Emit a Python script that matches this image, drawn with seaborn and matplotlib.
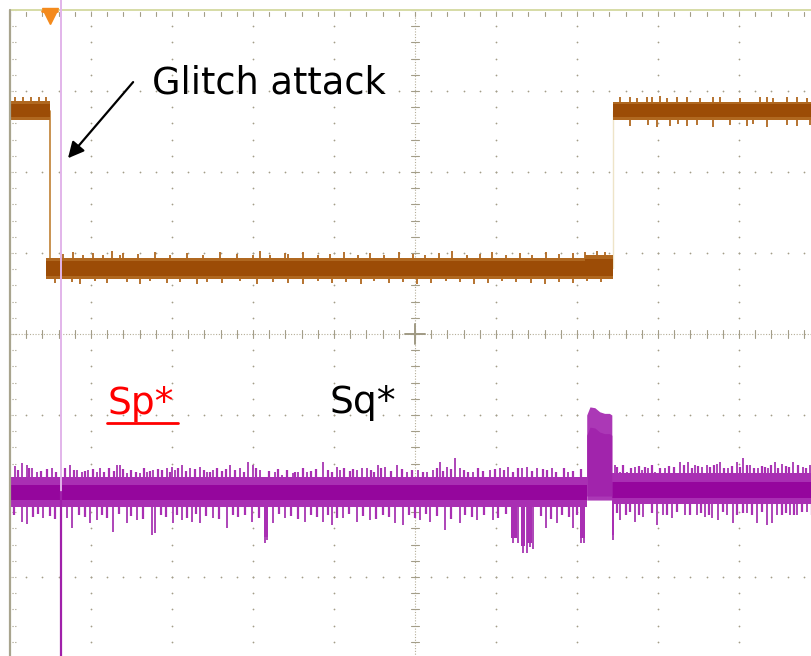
import matplotlib
matplotlib.use("Agg")
import matplotlib.pyplot as plt
import numpy as np
import pandas as pd
import seaborn as sns

# ---------------- data (scope screen units: time in div 0..10, level in div -4..4) -------------
# CH1 (orange) step trace
ch1_time = [0.0, 0.49, 0.49, 7.44, 7.44, 10.0]
ch1_level = [2.75, 2.75, 0.81, 0.81, 2.75, 2.75]
# CH1 noise band segments: start, end, lower edge, upper edge
ch1_band_start = [0.0, 0.45, 7.10, 7.44]
ch1_band_end = [0.49, 7.10, 7.44, 10.0]
ch1_band_low = [2.64, 0.68, 0.68, 2.64]
ch1_band_high = [2.88, 0.94, 0.97, 2.87]
ch1_core_low = [2.68, 0.72, 0.72, 2.68]
ch1_core_high = [2.84, 0.90, 0.93, 2.84]
# CH1 noise spikes
ch1_up_t = [0.06, 0.16, 0.26, 0.36, 0.44,
            0.65, 0.78, 0.90, 1.02, 1.15, 1.26, 1.36, 1.40, 1.58, 1.79, 1.98, 2.19, 2.38,
            2.59, 2.80, 3.00, 3.09, 3.21, 3.40, 3.43, 3.62, 3.80, 3.95, 4.12, 4.30, 4.45,
            4.62, 4.80, 4.97, 5.12, 5.30, 5.46, 5.64, 5.80, 5.95, 6.12, 6.30, 6.45, 6.62,
            6.78, 6.95, 7.10, 7.25, 7.35,
            7.53, 7.65, 7.74, 7.86, 7.93, 8.02, 8.11, 8.23, 8.36, 8.52, 8.68, 8.77, 9.01,
            9.26, 9.35, 9.42, 9.59, 9.72, 9.84]
ch1_up_v = [2.93, 2.92, 2.93, 2.92, 2.93,
            0.99, 1.01, 0.97, 1.00, 0.98, 1.02, 0.97, 1.00, 0.99, 1.01, 0.98, 1.00, 0.97,
            1.01, 0.99, 0.98, 1.02, 0.97, 1.00, 0.99, 1.01, 0.98, 0.99, 1.01, 0.97, 1.00,
            0.98, 1.01, 0.99, 0.97, 1.00, 1.02, 0.98, 0.99, 1.01, 0.97, 1.00, 0.98, 1.01,
            0.99, 1.00, 1.01, 1.02, 1.01,
            2.92, 2.93, 2.91, 2.93, 2.92, 2.94, 2.91, 2.93, 2.92, 2.91, 2.93, 2.92, 2.91,
            2.93, 2.92, 2.91, 2.93, 2.92, 2.91]
ch1_dn_t = [0.56, 0.77, 0.86, 1.05, 1.20, 1.44, 1.60, 1.73, 1.94, 2.10, 2.31, 2.43, 2.62,
            2.84, 3.05, 3.25, 3.43, 3.62, 3.80, 3.97, 4.15, 4.33, 4.50, 4.68, 4.85, 5.02,
            5.20, 5.38, 5.55, 5.73, 5.90, 6.08, 6.25, 6.43, 6.60, 6.78, 6.95, 7.12, 7.30,
            7.65, 7.88, 7.99, 8.15, 8.25, 8.36, 8.48, 8.68, 8.89, 9.10, 9.17, 9.35, 9.59,
            9.72, 9.88]
ch1_dn_v = [0.63, 0.64, 0.62, 0.65, 0.63, 0.64, 0.62, 0.65, 0.63, 0.64, 0.62, 0.64, 0.63,
            0.65, 0.62, 0.64, 0.63, 0.62, 0.65, 0.63, 0.64, 0.62, 0.65, 0.63, 0.64, 0.62,
            0.63, 0.65, 0.64, 0.62, 0.63, 0.65, 0.64, 0.63, 0.62, 0.64, 0.63, 0.65, 0.64,
            2.57, 2.58, 2.56, 2.57, 2.59, 2.57, 2.58, 2.56, 2.58, 2.57, 2.59, 2.56, 2.58,
            2.57, 2.58]

# CH2 (purple) noise band segments: start, end, lower, upper
ch2_band_start = [0.0, 7.43]
ch2_band_end = [7.12, 10.0]
ch2_band_low = [-2.13, -2.10]
ch2_band_high = [-1.76, -1.72]
ch2_core_low = [-2.05, -2.02]
ch2_core_high = [-1.87, -1.83]
# CH2 pulse block
ch2_block_t = [7.12, 7.16, 7.22, 7.28, 7.34, 7.40, 7.43]
ch2_block_top = [-1.00, -0.90, -0.91, -0.96, -0.98, -0.98, -1.00]
# CH2 negative bursts (start, end, depth)
ch2_dip_start = [3.13, 6.19, 6.31, 6.38, 7.04, 7.43]
ch2_dip_end = [3.18, 6.26, 6.36, 6.44, 7.10, 7.46]
ch2_dip_depth = [-2.50, -2.52, -2.62, -2.58, -2.52, -2.48]
# CH2 glitch spike
ch2_glitch_t = 0.63
ch2_glitch_v = -4.2
# CH2 main noise spikes
ch2_up_t = [0.06, 0.15, 0.21, 0.27, 0.33, 0.52, 0.74, 0.83, 0.89, 0.96, 1.07, 1.11, 1.32,
            1.36, 1.44, 1.60, 1.69, 1.77, 1.94, 2.00, 2.04, 2.12, 2.22, 2.35, 2.43, 2.51,
            2.72, 2.84, 2.94, 3.00, 3.09, 3.27, 3.36, 3.49, 3.56, 3.67, 3.86, 4.04, 4.07,
            4.28, 4.35, 4.41, 4.54, 4.63, 4.78, 4.90, 5.04, 5.15, 5.22, 5.31, 5.40, 5.49,
            5.56, 5.72, 5.93, 6.05, 6.15, 6.32, 6.38, 6.51, 6.69, 6.79, 6.89, 7.00,
            7.47, 7.53, 7.62, 7.72, 7.80, 7.88, 7.96, 8.09, 8.27, 8.37, 8.46, 8.54, 8.60,
            8.73, 8.77, 8.86, 8.98, 9.05, 9.14, 9.23, 9.36, 9.44, 9.53, 9.67, 9.79, 9.88]
ch2_up_v = [-1.63, -1.59, -1.62, -1.66, -1.70, -1.66, -1.62, -1.68, -1.70, -1.68, -1.70,
            -1.66, -1.62, -1.62, -1.72, -1.72, -1.70, -1.68, -1.66, -1.64, -1.68, -1.62,
            -1.66, -1.64, -1.70, -1.68, -1.62, -1.66, -1.58, -1.62, -1.68, -1.70, -1.74,
            -1.72, -1.70, -1.70, -1.58, -1.64, -1.68, -1.68, -1.65, -1.65, -1.62, -1.64,
            -1.62, -1.70, -1.68, -1.70, -1.68, -1.58, -1.64, -1.53, -1.65, -1.70, -1.68,
            -1.65, -1.64, -1.65, -1.64, -1.65, -1.65, -1.76, -1.70, -1.76,
            -1.62, -1.70, -1.70, -1.64, -1.68, -1.65, -1.70, -1.65, -1.58, -1.58, -1.62,
            -1.64, -1.62, -1.60, -1.58, -1.65, -1.58, -1.53, -1.62, -1.65, -1.65, -1.58,
            -1.60, -1.58, -1.64, -1.62]
ch2_dn_t = [0.15, 0.21, 0.41, 0.70, 0.77, 0.99, 1.07, 1.27, 1.44, 1.57, 1.75, 1.79, 2.01,
            2.12, 2.25, 2.35, 2.51, 2.68, 2.99, 3.15, 3.17, 3.25, 3.40, 3.64, 3.86, 3.98,
            4.11, 4.28, 4.44, 4.75, 4.85, 5.06, 5.19, 5.37, 5.56, 5.77, 5.96, 6.21, 6.27,
            6.33, 6.38, 6.42, 6.46, 6.62, 6.75, 6.95, 7.05, 7.09, 7.44, 7.53, 7.72, 7.81,
            7.99, 8.06, 8.17, 8.33, 8.48, 8.58, 8.67, 8.74, 8.85, 8.93, 9.10, 9.22, 9.35,
            9.41, 9.47, 9.63, 9.72, 9.84]
ch2_dn_v = [-2.32, -2.35, -2.27, -2.27, -2.40, -2.33, -2.30, -2.44, -2.33, -2.30, -2.48,
            -2.46, -2.33, -2.30, -2.32, -2.33, -2.27, -2.40, -2.32, -2.58, -2.54, -2.33,
            -2.27, -2.32, -2.32, -2.36, -2.27, -2.32, -2.30, -2.33, -2.36, -2.30, -2.32,
            -2.42, -2.33, -2.30, -2.30, -2.58, -2.58, -2.70, -2.70, -2.63, -2.66, -2.40,
            -2.33, -2.40, -2.58, -2.58, -2.54, -2.30, -2.32, -2.26, -2.36, -2.23, -2.27,
            -2.23, -2.23, -2.26, -2.27, -2.30, -2.23, -2.33, -2.21, -2.33, -2.36, -2.33,
            -2.23, -2.23, -2.23, -2.20]
# CH2 secondary (smaller) noise spikes as (time, level) pairs
ch2_small_up = [(0.10, -1.68), (0.24, -1.66), (0.38, -1.69), (0.46, -1.67), (0.57, -1.70),
                (0.68, -1.66), (0.79, -1.68), (0.93, -1.69), (1.02, -1.67), (1.16, -1.70),
                (1.22, -1.66), (1.28, -1.69), (1.40, -1.67), (1.50, -1.68), (1.55, -1.70),
                (1.65, -1.66), (1.73, -1.69), (1.83, -1.67), (1.88, -1.68), (1.98, -1.70),
                (2.08, -1.66), (2.17, -1.69), (2.28, -1.67), (2.39, -1.68), (2.47, -1.70),
                (2.56, -1.66), (2.62, -1.69), (2.67, -1.67), (2.78, -1.68), (2.89, -1.70),
                (3.04, -1.66), (3.20, -1.69), (3.31, -1.67), (3.42, -1.68), (3.52, -1.70),
                (3.62, -1.66), (3.72, -1.69), (3.78, -1.67), (3.92, -1.68), (3.98, -1.70),
                (4.12, -1.66), (4.20, -1.69), (4.24, -1.67), (4.46, -1.68), (4.50, -1.70),
                (4.58, -1.66), (4.70, -1.69), (4.84, -1.67), (4.96, -1.68), (5.10, -1.70),
                (5.27, -1.66), (5.35, -1.69), (5.45, -1.67), (5.60, -1.68), (5.66, -1.70),
                (5.78, -1.66), (5.84, -1.69), (5.99, -1.67), (6.10, -1.68), (6.21, -1.70),
                (6.27, -1.66), (6.45, -1.69), (6.58, -1.67), (6.63, -1.68), (6.74, -1.70),
                (6.84, -1.66), (6.95, -1.69), (7.05, -1.67),
                (7.50, -1.64), (7.57, -1.62), (7.67, -1.65), (7.76, -1.63), (7.84, -1.64),
                (7.92, -1.62), (8.02, -1.65), (8.14, -1.63), (8.20, -1.64), (8.32, -1.62),
                (8.42, -1.65), (8.50, -1.63), (8.64, -1.64), (8.69, -1.62), (8.82, -1.65),
                (8.91, -1.63), (9.01, -1.64), (9.10, -1.62), (9.18, -1.65), (9.28, -1.63),
                (9.32, -1.64), (9.40, -1.62), (9.48, -1.65), (9.58, -1.63), (9.62, -1.64),
                (9.73, -1.62), (9.83, -1.65)]
ch2_small_dn = [(0.05, -2.24), (0.28, -2.26), (0.35, -2.22), (0.49, -2.25), (0.56, -2.28),
                (0.85, -2.23), (0.92, -2.26), (1.13, -2.24), (1.20, -2.27), (1.35, -2.22),
                (1.50, -2.25), (1.64, -2.28), (1.86, -2.23), (1.92, -2.26), (2.06, -2.24),
                (2.18, -2.27), (2.30, -2.22), (2.42, -2.25), (2.58, -2.28), (2.75, -2.23),
                (2.82, -2.26), (2.90, -2.24), (3.07, -2.27), (3.32, -2.22), (3.47, -2.25),
                (3.55, -2.28), (3.72, -2.23), (3.79, -2.26), (3.92, -2.24), (4.04, -2.27),
                (4.18, -2.22), (4.36, -2.25), (4.52, -2.28), (4.60, -2.23), (4.68, -2.26),
                (4.92, -2.24), (5.00, -2.27), (5.13, -2.22), (5.27, -2.25), (5.45, -2.28),
                (5.62, -2.23), (5.70, -2.26), (5.85, -2.24), (6.03, -2.27), (6.12, -2.22),
                (6.55, -2.25), (6.68, -2.28), (6.82, -2.23), (6.90, -2.26), (7.00, -2.24),
                (7.49, -2.21), (7.60, -2.24), (7.66, -2.20), (7.77, -2.23), (7.92, -2.21),
                (8.11, -2.24), (8.24, -2.20), (8.40, -2.23), (8.53, -2.21), (8.63, -2.24),
                (8.80, -2.20), (8.97, -2.23), (9.05, -2.21), (9.16, -2.24), (9.28, -2.20),
                (9.53, -2.23), (9.58, -2.21), (9.68, -2.24), (9.78, -2.20), (9.90, -2.23)]

trigger_t = 0.49
cursor_t = 0.63

# ---------------- figure -------------------------------------------------------
sns.set_theme(style="white")
plt.rcParams["font.family"] = ["DejaVu Sans"]

fig = plt.figure(figsize=(8.12, 6.56), dpi=100)
ax = fig.add_axes([0, 0, 1, 1])
ax.set_xlim(-10 / 81, 802 / 81)
ax.set_ylim(-322 / 81, 334 / 81)
ax.set_facecolor("white")
for s in ax.spines.values():
    s.set_visible(False)
ax.set_xticks([])
ax.set_yticks([])

grid_c = "#a39d88"
minor = np.arange(-4.0, 4.01, 0.2)
minor_x = np.arange(0.0, 10.01, 0.2)
# dotted major grid
for gx in range(1, 10):
    if gx == 5:
        continue
    ax.scatter(np.full(minor.size, gx), minor, s=1.6, color=grid_c, lw=0, zorder=1)
for gy in range(-3, 4):
    if gy == 0:
        continue
    ax.scatter(minor_x, np.full(minor_x.size, gy), s=1.6, color=grid_c, lw=0, zorder=1)
# centre axes with ticks
ax.plot([0, 10], [0, 0], color="#b5ae98", lw=0.8, ls=(0, (1, 1.5)), zorder=1)
ax.plot([5, 5], [-4, 4], color="#b5ae98", lw=0.8, ls=(0, (1, 1.5)), zorder=1)
for tx in minor_x:
    ax.plot([tx, tx], [-0.045, 0.045], color=grid_c, lw=0.8, zorder=1)
for ty in minor:
    ax.plot([4.955, 5.045], [ty, ty], color=grid_c, lw=0.8, zorder=1)
ax.plot([4.88, 5.12], [0, 0], color="#a09a84", lw=1.4, zorder=1)
ax.plot([5, 5], [-0.12, 0.12], color="#a09a84", lw=1.4, zorder=1)
# border ticks
for ty in minor:
    ax.plot([0.02, 0.08], [ty, ty], color=grid_c, lw=0.8, ls=(0, (1, 1.5)), zorder=1)
for tx in minor_x:
    ax.plot([tx, tx], [3.92, 3.97], color=grid_c, lw=0.8, zorder=1)
ax.plot([0, 0], [-4.2, 4.0], color="#a8a48e", lw=1.6, zorder=8)
ax.plot([0, 10.2], [4.0, 4.0], color="#d6dca6", lw=1.4, zorder=2)

# ---------------- CH1 (orange) ---------------------------------------------------
c1_edge = "#c08034"
c1_band = "#b06820"
c1_core = "#9c4c06"
ch1_df = pd.DataFrame({"t": ch1_time, "v": ch1_level})
sns.lineplot(data=ch1_df.iloc[:4], x="t", y="v", sort=False, estimator=None,
             color=c1_edge, lw=1.2, ax=ax, zorder=3)
sns.lineplot(data=ch1_df.iloc[3:], x="t", y="v", sort=False, estimator=None,
             color="#eee4c8", lw=1.0, ax=ax, zorder=3)
for a, b, lo, hi, clo, chi in zip(ch1_band_start, ch1_band_end, ch1_band_low,
                                  ch1_band_high, ch1_core_low, ch1_core_high):
    ax.fill_between([a, b], lo, hi, color=c1_band, lw=0, zorder=4)
    ax.fill_between([a, b], clo, chi, color=c1_core, lw=0, zorder=4)
ch1_mid = [2.75 if (t < 0.49 or t > 7.44) else 0.81 for t in ch1_up_t]
ax.vlines(ch1_up_t, ch1_mid, ch1_up_v, color=c1_band, lw=1.3, zorder=3.5)
ch1_mid_d = [2.75 if (t < 0.49 or t > 7.44) else 0.81 for t in ch1_dn_t]
ax.vlines(ch1_dn_t, ch1_dn_v, ch1_mid_d, color=c1_band, lw=1.3, zorder=3.5)

# ---------------- CH2 (purple) ---------------------------------------------------
c2_spike = "#ad44b8"
c2_band = "#a92fb3"
c2_core = "#95069d"
ax.vlines(ch2_up_t, [-1.93] * len(ch2_up_t), ch2_up_v, color=c2_spike, lw=1.4, zorder=5)
ax.vlines(ch2_dn_t, ch2_dn_v, [-1.93] * len(ch2_dn_t), color=c2_spike, lw=1.4, zorder=5)
su_t, su_v = zip(*ch2_small_up)
sd_t, sd_v = zip(*ch2_small_dn)
ax.vlines(su_t, [-1.93] * len(su_t), su_v, color=c2_band, lw=1.6, zorder=5)
ax.vlines(sd_t, sd_v, [-1.93] * len(sd_t), color=c2_band, lw=1.6, zorder=5)
for a, b, d in zip(ch2_dip_start, ch2_dip_end, ch2_dip_depth):
    ax.fill_between([a, b], d, -2.0, color=c2_band, lw=0, zorder=5)
for a, b, lo, hi, clo, chi in zip(ch2_band_start, ch2_band_end, ch2_band_low,
                                  ch2_band_high, ch2_core_low, ch2_core_high):
    ax.fill_between([a, b], lo, hi, color=c2_band, lw=0, zorder=6)
    ax.fill_between([a, b], clo, chi, color=c2_core, lw=0, zorder=6)
ax.fill_between(ch2_block_t, [-2.05] * len(ch2_block_t), ch2_block_top,
                color="#ab38b6", lw=0, zorder=6)
ax.fill_between(ch2_block_t, [-2.0] * len(ch2_block_t),
                [v - 0.25 for v in ch2_block_top], color="#a124ac", lw=0, zorder=6)

# cursor line and glitch spike
ax.axvline(cursor_t, color="#e2b4ea", lw=1.4, zorder=7)
ax.plot([ch2_glitch_t, ch2_glitch_t], [-1.95, ch2_glitch_v], color="#a020aa",
        lw=1.6, zorder=7)

# trigger marker
ax.plot([trigger_t], [3.93], marker="v", ms=11, color="#f48a1c", mec="#f48a1c",
        zorder=8, clip_on=False)
ax.plot([trigger_t - 0.09, trigger_t + 0.09], [3.985, 3.985], color="#f48a1c",
        lw=2.0, zorder=8)

# ---------------- annotations ----------------------------------------------------
ax.text(1.75, 2.975, "Glitch attack", fontsize=26.5, color="black",
        ha="left", va="baseline", zorder=9)
ax.annotate("", xy=(0.716, 2.17), xytext=(1.52, 3.11),
            arrowprops=dict(arrowstyle="-|>", lw=1.6, color="black",
                            mutation_scale=24, shrinkA=0, shrinkB=0), zorder=9)
ax.text(1.20, -0.99, "Sp*", fontsize=27, color="#ff0000", ha="left",
        va="baseline", zorder=9)
ax.plot([1.20, 2.07], [-1.10, -1.10], color="#ff0000", lw=2.0, zorder=9)
ax.text(3.95, -0.975, "Sq*", fontsize=27, color="black", ha="left",
        va="baseline", zorder=9)

fig.savefig("out.png", dpi=100)
